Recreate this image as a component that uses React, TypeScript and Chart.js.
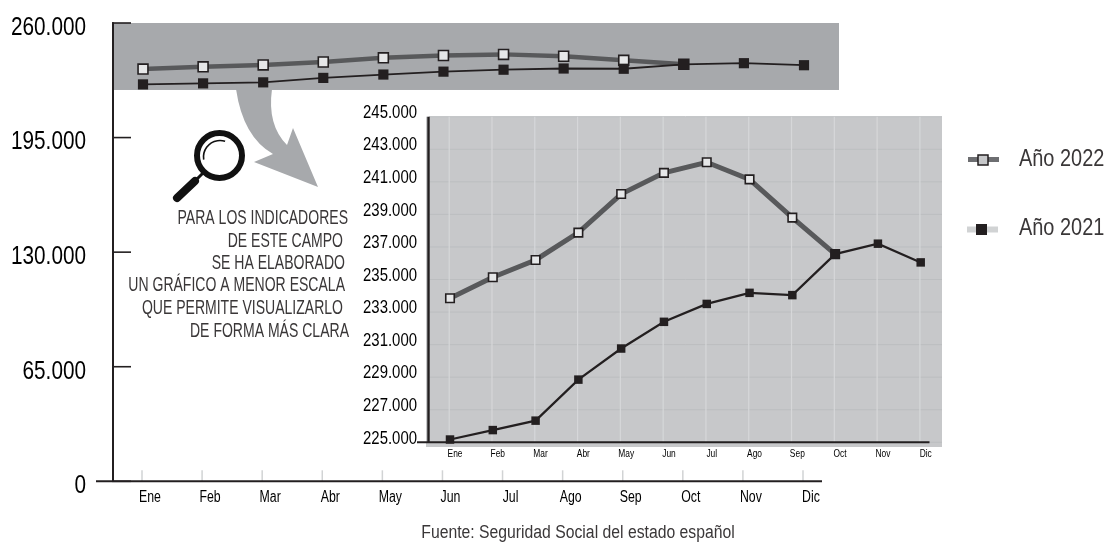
import React, { useEffect, useRef } from "react";
import { Chart, registerables } from "chart.js";

Chart.register(...registerables);

const MONTHS = ["Ene", "Feb", "Mar", "Abr", "May", "Jun", "Jul", "Ago", "Sep", "Oct", "Nov", "Dic"];
const SERIES_2022 = [233850, 235140, 236200, 237880, 240250, 241550, 242200, 241150, 238800, 236560, null, null];
const SERIES_2021 = [225170, 225750, 226330, 228850, 230760, 232400, 233500, 234180, 234040, 236560, 237200, 236050];
const OUTER_TICKS = { min: 0, max: 260000, step: 65000 };
const INNER_TICKS = { min: 225000, max: 245000, step: 2000 };
const BAND_FLOOR = 222000;
const NOTE_LINES = [
  "PARA LOS INDICADORES",
  "DE ESTE CAMPO",
  "SE HA ELABORADO",
  "UN GRÁFICO A MENOR ESCALA",
  "QUE PERMITE VISUALIZARLO",
  "DE FORMA MÁS CLARA",
];
const NOTE_RIGHT = [348, 343, 345, 345, 343, 349];
const NOTE_Y = [218, 241, 263, 285, 308, 331];
const SOURCE = "Fuente: Seguridad Social del estado español";
const LEGEND_2022 = "Año 2022";
const LEGEND_2021 = "Año 2021";

const FONT = '"Liberation Sans", sans-serif';
const INK = "#231f20";
const TEXT = "#3a3738";
const LINE_GRAY = "#58595b";
const BAND = "#a7a9ac";
const PANEL = "#c7c8ca";

const fmt = (v: any) => String(v).replace(/\B(?=(\d{3})+$)/g, ".");

// No condensed face is installed: the scale keeps its own label layout, and only the
// final fillText is squeezed horizontally.
function condenseLabels(scale: any, sx: number) {
  scale.drawLabels = function (area: any) {
    const ctx = this.ctx;
    for (const item of this.getLabelItems(area)) {
      ctx.save();
      ctx.translate(item.options.translation[0], item.options.translation[1]);
      ctx.scale(sx, 1);
      ctx.font = item.font.string;
      ctx.fillStyle = item.color;
      ctx.textAlign = item.options.textAlign;
      ctx.textBaseline = item.options.textBaseline;
      ctx.fillText(item.label, 0, item.textOffset);
      ctx.restore();
    }
  };
}

function squeezed(ctx: CanvasRenderingContext2D, text: string, x: number, y: number, sx: number) {
  ctx.save();
  ctx.translate(x, y);
  ctx.scale(sx, 1);
  ctx.fillText(text, 0, 0);
  ctx.restore();
}

function buildOptions(cfg: any) {
  return {
    responsive: false,
    animation: false,
    devicePixelRatio: 1,
    layout: { autoPadding: false, padding: { left: 0, top: cfg.top, right: 1105 - cfg.right, bottom: 0 } },
    plugins: { legend: { display: false }, tooltip: { enabled: false }, title: { display: false } },
    scales: {
      x: {
        type: "category",
        offset: false,
        border: { display: false },
        grid: { display: false, drawTicks: false },
        afterFit: (s: any) => {
          s.height = 542 - cfg.bottom;
          condenseLabels(s, cfg.xSqueeze);
        },
        ticks: {
          autoSkip: false,
          maxRotation: 0,
          minRotation: 0,
          padding: cfg.xPad,
          labelOffset: cfg.xLabelOffset,
          color: TEXT,
          font: { family: FONT, size: cfg.xFont },
        },
      },
      y: {
        min: cfg.ticks.min,
        max: cfg.ticks.max,
        border: { display: false },
        grid: { display: false, drawTicks: true, tickLength: cfg.yGap },
        afterFit: (s: any) => {
          s.width = cfg.left;
          condenseLabels(s, cfg.ySqueeze);
        },
        ticks: {
          stepSize: cfg.ticks.step,
          autoSkip: false,
          padding: 0,
          labelOffset: cfg.yLabelOffset,
          color: TEXT,
          font: { family: FONT, size: cfg.yFont },
          callback: fmt,
        },
      },
    },
  };
}

function buildData(cfg: any) {
  return {
    labels: MONTHS,
    datasets: [
      {
        label: LEGEND_2021,
        data: SERIES_2021,
        borderColor: INK,
        backgroundColor: INK,
        borderWidth: cfg.thin,
        pointStyle: "rect",
        pointRadius: cfg.blackRadius,
        pointBackgroundColor: INK,
        pointBorderColor: INK,
        pointBorderWidth: 0,
        tension: 0,
        clip: false,
      },
      {
        label: LEGEND_2022,
        data: SERIES_2022,
        borderColor: LINE_GRAY,
        backgroundColor: LINE_GRAY,
        borderWidth: cfg.thick,
        pointStyle: "rect",
        pointRadius: cfg.lightRadius,
        pointBackgroundColor: "#e6e7e8",
        pointBorderColor: INK,
        pointBorderWidth: 1.6,
        tension: 0,
        clip: false,
      },
    ],
  };
}

const seg = (ctx: CanvasRenderingContext2D, x1: number, y1: number, x2: number, y2: number, color: string, w: number) => {
  ctx.strokeStyle = color;
  ctx.lineWidth = w;
  ctx.beginPath();
  ctx.moveTo(x1, y1);
  ctx.lineTo(x2, y2);
  ctx.stroke();
};

const outerPlugin = {
  id: "outerDecor",
  beforeDatasetsDraw(chart: any) {
    const { ctx, scales } = chart;
    const { x, y } = scales;
    ctx.save();
    ctx.fillStyle = BAND;
    const top = y.getPixelForValue(OUTER_TICKS.max);
    ctx.fillRect(113, top, 726, y.getPixelForValue(BAND_FLOOR) - top);

    // arrow
    ctx.beginPath();
    ctx.moveTo(236, 89);
    ctx.quadraticCurveTo(243, 137, 273, 154);
    ctx.lineTo(254, 162);
    ctx.lineTo(318, 187);
    ctx.lineTo(293, 128);
    ctx.lineTo(287, 145);
    ctx.quadraticCurveTo(267, 125, 272, 89);
    ctx.closePath();
    ctx.fill();

    // axes
    const zero = y.getPixelForValue(0);
    x.ticks.forEach((_: any, i: number) => {
      const px = x.getPixelForTick(i) - 1;
      seg(ctx, px, zero - 11, px, zero, "#d1d3d4", 1.5);
    });
    seg(ctx, 113, top - 0.75, 113, zero, INK, 2);
    seg(ctx, 96, zero, 822, zero, INK, 2);
    y.ticks.forEach((t: any) => {
      const py = y.getPixelForValue(t.value);
      seg(ctx, 112, py, 131, py, INK, 1.6);
    });

    // magnifier
    ctx.strokeStyle = "#111";
    ctx.lineWidth = 6;
    ctx.beginPath();
    ctx.arc(219.5, 155.5, 22.5, 0, Math.PI * 2);
    ctx.stroke();
    ctx.lineWidth = 1.6;
    ctx.beginPath();
    ctx.arc(220, 157, 16.5, Math.PI * 0.95, Math.PI * 1.6);
    ctx.stroke();
    seg(ctx, 205, 171, 196, 180, "#111", 3);
    ctx.lineCap = "round";
    seg(ctx, 195, 181, 177, 198, "#111", 8);
    ctx.lineCap = "butt";

    // note
    ctx.fillStyle = TEXT;
    ctx.textAlign = "right";
    ctx.textBaseline = "middle";
    ctx.font = `21px ${FONT}`;
    NOTE_LINES.forEach((l, i) => squeezed(ctx, l, NOTE_RIGHT[i], NOTE_Y[i], 0.668));

    // source
    ctx.textAlign = "center";
    ctx.font = `18px ${FONT}`;
    squeezed(ctx, SOURCE, 578, 533, 0.875);

    // legend
    ctx.textAlign = "left";
    ctx.font = `24px ${FONT}`;
    squeezed(ctx, LEGEND_2022, 1019, 159, 0.83);
    squeezed(ctx, LEGEND_2021, 1019, 228, 0.83);
    seg(ctx, 968, 159.5, 999, 159.5, "#6d6e71", 5);
    ctx.fillStyle = PANEL;
    ctx.fillRect(978, 155, 10, 10);
    ctx.strokeStyle = INK;
    ctx.lineWidth = 1.5;
    ctx.strokeRect(978, 155, 10, 10);
    seg(ctx, 967, 229.5, 998, 229.5, "#d1d3d4", 6);
    ctx.fillStyle = INK;
    ctx.fillRect(976, 224, 11, 11);
    ctx.restore();
  },
};

const innerPlugin = {
  id: "innerDecor",
  beforeDatasetsDraw(chart: any) {
    const { ctx, scales } = chart;
    const { x, y } = scales;
    const top = y.getPixelForValue(INNER_TICKS.max);
    const zero = y.getPixelForValue(INNER_TICKS.min);
    ctx.save();
    ctx.fillStyle = PANEL;
    ctx.fillRect(426, top, 516, 447 - top);
    y.ticks.forEach((t: any) => {
      const py = y.getPixelForValue(t.value);
      seg(ctx, 429, py, 942, py, "#bcbec0", 1);
    });
    x.ticks.forEach((_: any, i: number) => {
      const px = x.getPixelForTick(i) - 0.8;
      seg(ctx, px, top, px, zero + 1, "#d6d7d9", 1.2);
    });
    seg(ctx, 428.5, top, 428.5, zero, INK, 2.4);
    seg(ctx, 417, zero, 929.5, zero, INK, 2);
    ctx.restore();
  },
};

export default function App() {
  const outerRef = useRef<HTMLCanvasElement | null>(null);
  const innerRef = useRef<HTMLCanvasElement | null>(null);

  useEffect(() => {
    const outerCfg = {
      left: 143, right: 804, top: 23, bottom: 481.3, ticks: OUTER_TICKS,
      xPad: 7, xLabelOffset: 7, xFont: 16, xSqueeze: 0.77, yGap: 57, yLabelOffset: 5, yFont: 25, ySqueeze: 0.83,
      thin: 1.8, thick: 4.5, blackRadius: 7.2, lightRadius: 7,
    };
    const innerCfg = {
      left: 450, right: 920.7, top: 116.7, bottom: 442.3, ticks: INNER_TICKS,
      xPad: 4.5, xLabelOffset: 5, xFont: 11.5, xSqueeze: 0.73, yGap: 33, yLabelOffset: -4, yFont: 19, ySqueeze: 0.786,
      thin: 2.2, thick: 5, blackRadius: 6, lightRadius: 6,
    };
    const outer = new Chart(outerRef.current as any, {
      type: "line",
      data: buildData(outerCfg) as any,
      options: buildOptions(outerCfg) as any,
      plugins: [outerPlugin],
    });
    const inner = new Chart(innerRef.current as any, {
      type: "line",
      data: buildData(innerCfg) as any,
      options: buildOptions(innerCfg) as any,
      plugins: [innerPlugin],
    });
    return () => {
      outer.destroy();
      inner.destroy();
    };
  }, []);

  const canvasStyle: React.CSSProperties = { position: "absolute", left: 0, top: 0, display: "block" };
  return (
    <div style={{ position: "fixed", left: 0, top: 0, width: 1105, height: 542, background: "#fff", overflow: "hidden" }}>
      <canvas ref={outerRef} width={1105} height={542} style={canvasStyle} />
      <canvas ref={innerRef} width={1105} height={542} style={canvasStyle} />
    </div>
  );
}
